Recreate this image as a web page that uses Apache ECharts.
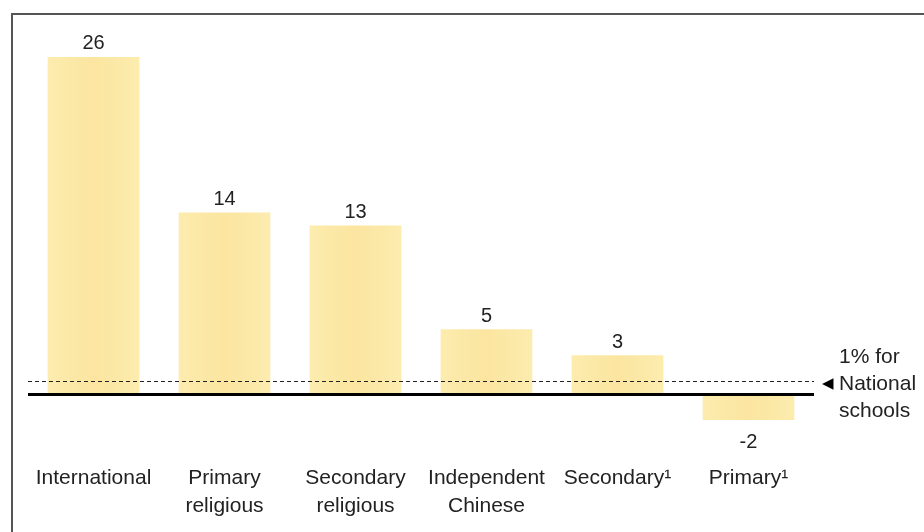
<!DOCTYPE html>
<html>
<head>
<meta charset="utf-8">
<script src="https://cdn.jsdelivr.net/npm/echarts@6/dist/echarts.min.js"></script>
<style>
  html, body { margin: 0; padding: 0; background: #fff; }
  #chart { width: 924px; height: 532px; }
</style>
</head>
<body>
<div id="chart"></div>
<script>
  // categories and values
  var categories = ['International', 'Primary\nreligious', 'Secondary\nreligious',
    'Independent\nChinese', 'Secondary¹', 'Primary¹'];
  var growth = [26, 14, 13, 5, 3, -2];
  var nationalLine = 1;

  var font = '"Liberation Sans", Arial, Helvetica, sans-serif';

  var chart = echarts.init(document.getElementById('chart'));

  var barData = growth.map(function (v) {
    if (v < 0) {
      return { value: v, label: { position: 'bottom', distance: 12 } };
    }
    return v;
  });

  var option = {
    animation: false,
    backgroundColor: '#fff',
    grid: { left: 28, right: 110, top: 31, bottom: 73 },
    xAxis: {
      type: 'category',
      data: categories,
      axisLine: { show: false },
      axisTick: { show: false },
      axisLabel: {
        margin: 5,
        color: '#222',
        fontFamily: font,
        fontSize: 21,
        lineHeight: 28,
        interval: 0
      }
    },
    yAxis: {
      type: 'value',
      min: -5,
      max: 28,
      show: false,
      splitLine: { show: false }
    },
    graphic: [{
      type: 'rect',
      shape: { x: 12, y: 14, width: 940, height: 540 },
      style: { fill: 'none', stroke: '#555', lineWidth: 2 },
      z: -1
    }],
    series: [{
      type: 'bar',
      data: barData,
      barCategoryGap: '30%',
      itemStyle: {
        color: {
          type: 'linear', x: 0, y: 0, x2: 1, y2: 0,
          colorStops: [
            { offset: 0, color: '#fcecae' },
            { offset: 0.5, color: '#fbe5a0' },
            { offset: 1, color: '#fcecae' }
          ]
        }
      },
      label: {
        show: true,
        position: 'top',
        distance: 3,
        color: '#222',
        fontFamily: font,
        fontSize: 20
      },
      markLine: {
        symbol: 'none',
        silent: true,
        data: [
          {
            yAxis: 0,
            lineStyle: { color: '#000', width: 3, type: 'solid' },
            label: { show: false }
          },
          {
            yAxis: nationalLine,
            lineStyle: { color: '#222', width: 1, type: [4, 3] },
            label: {
              show: true,
              position: 'end',
              distance: 8,
              padding: [6, 0, 0, 0],
              formatter: '{s|}1% for\n{t|◀}National\n{s|}schools',
              color: '#222',
              fontFamily: font,
              fontSize: 21,
              lineHeight: 27,
              rich: {
                s: { width: 17 },
                t: { width: 17, fontSize: 15, color: '#000' }
              }
            }
          }
        ]
      }
    }]
  };

  chart.setOption(option);
</script>
</body>
</html>
